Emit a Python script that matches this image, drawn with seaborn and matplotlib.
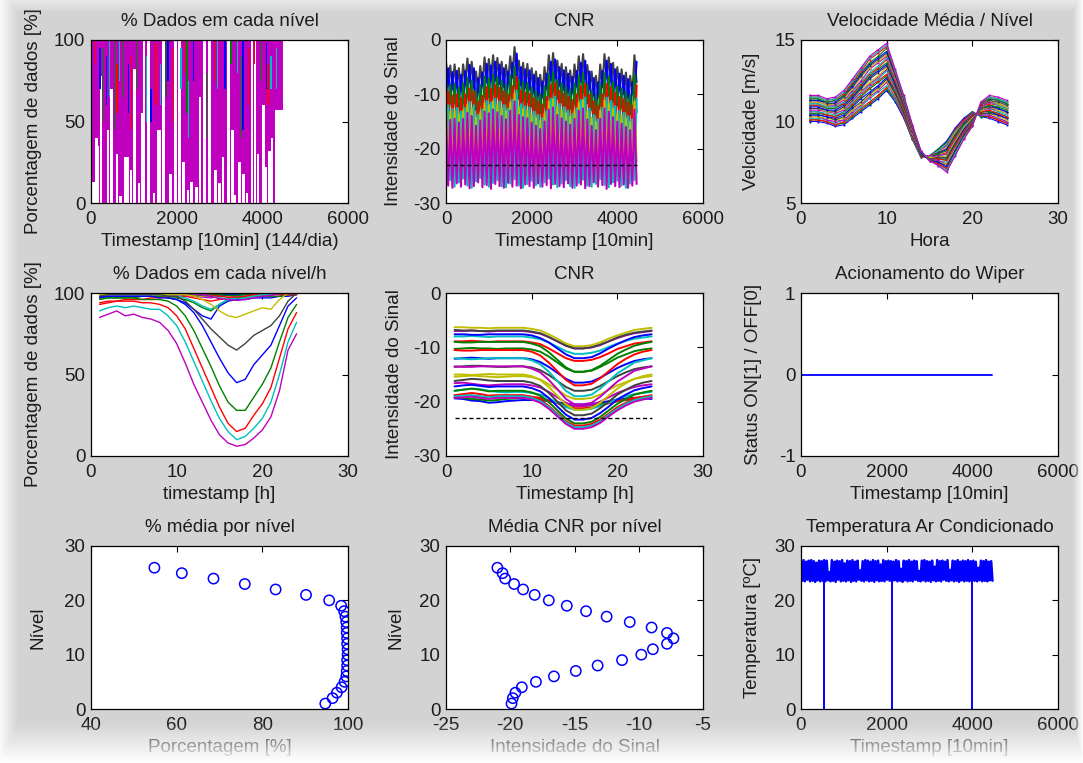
import numpy as np
import pandas as pd
import matplotlib
matplotlib.use("Agg")
import matplotlib.pyplot as plt
import seaborn as sns

#%% dados

horas = list(range(1, 25))
niveis = list(range(1, 27))

# cores padrao do MATLAB: b, g, r, c, m, y, k
cores = {'b': '#0000ff', 'g': '#008000', 'r': '#ff0000', 'c': '#00bfbf',
         'm': '#bf00bf', 'y': '#bfbf00', 'k': '#404040'}
ordem_cores = ['b', 'g', 'r', 'c', 'm', 'y', 'k']

# --- % dados em cada nivel (serie 10 min) ---
bloco_t = [0, 4300, 4300, 4480]
bloco_base = [0, 0, 57, 57]
faixa_t = [55, 128, 170, 240, 390, 480, 600, 690, 830, 930, 1020, 1120, 1180, 1230, 1340,
           1465, 1590, 1690, 1850, 1970, 2060, 2170, 2260, 2350, 2460, 2540, 2640, 2770, 2910,
           3000, 3080, 3210, 3300, 3370, 3470, 3560, 3640, 3760, 3830, 3900, 4030, 4090, 4160, 4230]
faixa_larg = [60, 70, 45, 55, 50, 55, 55, 60, 120, 50, 65, 60, 45, 50, 55,
              45, 75, 55, 60, 55, 60, 70, 45, 70, 65, 50, 70, 60, 80,
              50, 65, 65, 55, 50, 75, 55, 55, 60, 45, 65, 55, 45, 70, 55]
faixa_topo = [13, 40, 35, 78, 45, 70, 30, 4, 28, 20, 82, 12, 55, 100, 100,
              6, 45, 100, 18, 100, 100, 25, 8, 13, 10, 65, 100, 100, 20,
              12, 28, 100, 45, 5, 25, 18, 6, 100, 100, 30, 60, 22, 32, 40]
risco_t = [80, 210, 270, 360, 430, 545, 610, 660, 740, 880, 950, 1060, 1290, 1400, 1520, 1620,
           1750, 1800, 1900, 2100, 2220, 2245, 2270, 2400, 2700, 2880, 2960, 3130, 3270, 3420,
           3510, 3550, 3700, 3820, 3960, 4090, 4130, 4200, 4330]
risco_cor = ['r', 'b', 'g', 'b', 'c', 'g', 'r', 'c', 'g', 'b', 'r', 'g', 'c', 'b', 'r', 'c',
             'k', 'b', 'r', 'c', 'r', 'g', 'c', 'b', 'g', 'r', 'c', 'b', 'g', 'c',
             'g', 'b', 'r', 'r', 'g', 'b', 'r', 'c', 'c']
risco_base = [85, 70, 50, 60, 65, 45, 55, 75, 65, 55, 45, 70, 50, 50, 60, 60,
              65, 75, 50, 70, 80, 55, 40, 75, 40, 75, 70, 70, 85, 80,
              40, 45, 60, 85, 75, 70, 60, 70, 70]
risco_topo = [100, 95, 95, 90, 100, 100, 85, 100, 100, 85, 90, 100, 90, 70, 98, 85,
              100, 100, 95, 95, 100, 100, 75, 100, 80, 100, 100, 100, 100, 100,
              90, 100, 95, 100, 100, 98, 85, 90, 95]

# --- CNR (serie 10 min) ---
tempo_cnr = list(range(0, 4451, 50))
limiar_cnr = -23
preto_pico = [-4.0, -4.7, -4.5, -5.2, -4.5, -3.4, -4.0, -5.8, -4.8, -3.2, -3.5, -2.8, -3.3, -4.0, -4.6,
              -3.0, -1.3, -3.8, -4.2, -4.4, -5.2, -5.8, -6.4, -5.0, -2.8, -2.4, -3.8, -4.4, -5.0, -5.6,
              -4.5, -3.0, -2.6, -4.6, -5.8, -6.6, -4.5, -2.6, -3.2, -4.2, -5.0, -5.4, -6.0, -6.6, -2.8]
preto_vale = [-8.2, -9.0, -8.5, -9.4, -8.0, -7.6, -8.8, -9.6, -8.4, -7.8, -7.2, -7.5, -8.1, -8.6, -8.0,
              -6.9, -6.5, -8.3, -8.8, -9.1, -9.7, -10.2, -10.6, -9.0, -7.4, -7.0, -8.4, -9.2, -9.5, -9.8,
              -8.6, -7.7, -7.1, -8.9, -10.1, -10.5, -8.7, -7.0, -7.6, -8.5, -9.3, -9.9, -10.4, -10.0, -7.8]
azul_pico = [-5.2, -5.9, -5.7, -6.4, -5.7, -4.6, -5.2, -7.0, -6.0, -4.4, -4.7, -4.0, -4.5, -5.2, -5.8,
             -4.2, -2.5, -5.0, -5.4, -5.6, -6.4, -7.0, -7.6, -6.2, -4.0, -3.6, -5.0, -5.6, -6.2, -6.8,
             -5.7, -4.2, -3.8, -5.8, -7.0, -7.8, -5.7, -3.8, -4.4, -5.4, -6.2, -6.6, -7.2, -7.8, -4.0]
azul_vale = [-11.0, -11.7, -11.5, -12.2, -11.5, -10.4, -11.0, -12.8, -11.8, -10.2, -10.5, -9.8, -10.3, -11.0, -11.6,
             -10.0, -8.3, -10.8, -11.2, -11.4, -12.2, -12.8, -13.4, -12.0, -9.8, -9.4, -10.8, -11.4, -12.0, -12.6,
             -11.5, -10.0, -9.6, -11.6, -12.8, -13.6, -11.5, -9.6, -10.2, -11.2, -12.0, -12.4, -13.0, -13.6, -9.8]
verde_pico = [-7.5, -8.2, -8.0, -8.7, -8.0, -6.9, -7.5, -9.3, -8.3, -6.7, -7.0, -6.3, -6.8, -7.5, -8.1,
              -6.5, -4.8, -7.3, -7.7, -7.9, -8.7, -9.3, -9.9, -8.5, -6.3, -5.9, -7.3, -7.9, -8.5, -9.1,
              -8.0, -6.5, -6.1, -8.1, -9.3, -10.1, -8.0, -6.1, -6.7, -7.7, -8.5, -8.9, -9.5, -10.1, -6.3]
verde_vale = [-14.5, -15.2, -15.0, -15.7, -15.0, -13.9, -14.5, -16.3, -15.3, -13.7, -14.0, -13.3, -13.8, -14.5, -15.1,
              -13.5, -11.8, -14.3, -14.7, -14.9, -15.7, -16.3, -16.9, -15.5, -13.3, -12.9, -14.3, -14.9, -15.5, -16.1,
              -15.0, -13.5, -13.1, -15.1, -16.3, -17.1, -15.0, -13.1, -13.7, -14.7, -15.5, -15.9, -16.5, -17.1, -13.3]
verm_pico = [-9.5, -10.2, -10.0, -10.7, -10.0, -8.9, -9.5, -11.3, -10.3, -8.7, -9.0, -8.3, -8.8, -9.5, -10.1,
             -8.5, -6.8, -9.3, -9.7, -9.9, -10.7, -11.3, -11.9, -10.5, -8.3, -7.9, -9.3, -9.9, -10.5, -11.1,
             -10.0, -8.5, -8.1, -10.1, -11.3, -12.1, -10.0, -8.1, -8.7, -9.7, -10.5, -10.9, -11.5, -12.1, -8.3]
verm_vale = [-21, -23, -20, -24, -22, -19, -23, -25, -21, -20, -22, -18, -21, -23, -24,
             -20, -19, -22, -24, -23, -25, -26, -24, -22, -20, -19, -22, -23, -25, -24,
             -21, -20, -19, -23, -25, -26, -22, -20, -21, -23, -24, -25, -26, -24, -21]
ciano_pico = [-12.0, -12.7, -12.5, -13.2, -12.5, -11.4, -12.0, -13.8, -12.8, -11.2, -11.5, -10.8, -11.3, -12.0, -12.6,
              -11.0, -9.3, -11.8, -12.2, -12.4, -13.2, -13.8, -14.4, -13.0, -10.8, -10.4, -11.8, -12.4, -13.0, -13.6,
              -12.5, -11.0, -10.6, -12.6, -13.8, -14.6, -12.5, -10.6, -11.2, -12.2, -13.0, -13.4, -14.0, -14.6, -10.8]
ciano_vale = [-26.5, -25.8, -27.0, -26.2, -25.5, -26.8, -27.2, -26.0, -25.4, -26.6, -27.0, -26.3, -25.8, -26.9, -27.1,
              -26.4, -25.6, -26.8, -27.2, -26.5, -25.9, -26.7, -27.0, -26.2, -25.5, -26.6, -27.1, -26.4, -25.8, -26.9,
              -27.2, -26.3, -25.7, -26.8, -27.0, -26.5, -25.6, -26.7, -27.1, -26.2, -25.9, -26.8, -27.2, -26.4, -25.8]
amar_pico = [-12.5, -13.2, -13.0, -13.7, -13.0, -11.9, -12.5, -14.3, -13.3, -11.7, -12.0, -11.3, -11.8, -12.5, -13.1,
             -11.5, -9.8, -12.3, -12.7, -12.9, -13.7, -14.3, -14.9, -13.5, -11.3, -10.9, -12.3, -12.9, -13.5, -14.1,
             -13.0, -11.5, -11.1, -13.1, -14.3, -15.1, -13.0, -11.1, -11.7, -12.7, -13.5, -13.9, -14.5, -15.1, -11.3]
amar_vale = [-23.0, -24.5, -22.5, -25.0, -23.5, -22.0, -24.0, -25.5, -23.0, -22.5, -24.0, -21.5, -23.0, -24.5, -25.0,
             -22.0, -21.0, -23.5, -25.0, -24.0, -25.5, -26.0, -25.0, -23.5, -22.0, -21.5, -23.5, -24.5, -25.5, -25.0,
             -23.0, -22.0, -21.5, -24.0, -25.5, -26.0, -23.5, -22.0, -22.5, -24.0, -25.0, -25.5, -26.0, -25.0, -22.5]
mag_pico = [-14.0, -14.7, -14.5, -15.2, -14.5, -13.4, -14.0, -15.8, -14.8, -13.2, -13.5, -12.8, -13.3, -14.0, -14.6,
            -13.0, -11.3, -13.8, -14.2, -14.4, -15.2, -15.8, -16.4, -15.0, -12.8, -12.4, -13.8, -14.4, -15.0, -15.6,
            -14.5, -13.0, -12.6, -14.6, -15.8, -16.6, -14.5, -12.6, -13.2, -14.2, -15.0, -15.4, -16.0, -16.6, -12.8]
mag_vale = [-26.8, -27.2, -26.4, -27.0, -26.6, -27.3, -26.9, -26.2, -27.1, -26.7, -27.4, -26.5, -26.9, -27.2, -26.3,
            -27.0, -26.8, -27.3, -26.6, -26.9, -27.2, -26.4, -27.0, -26.7, -27.3, -26.5, -26.9, -27.1, -26.4, -27.2,
            -26.8, -26.6, -27.3, -26.9, -26.2, -27.0, -26.7, -27.4, -26.5, -26.9, -27.1, -26.6, -27.2, -26.8, -26.5]

# --- velocidade media por hora, uma linha por nivel (1..26) ---
vel_nivel = [
    [10.0, 10.0, 9.9, 9.7, 9.8, 10.2, 10.6, 11.0, 11.4, 11.9, 11.2, 10.2, 8.9, 7.8, 7.9, 8.3, 8.8, 9.6, 10.2, 10.6, 10.3, 10.2, 10.0, 9.8],
    [10.1, 10.1, 10.0, 9.8, 9.9, 10.3, 10.7, 11.1, 11.5, 12.0, 11.3, 10.3, 8.9, 7.8, 7.9, 8.3, 8.7, 9.5, 10.1, 10.6, 10.3, 10.3, 10.1, 9.9],
    [10.1, 10.1, 10.0, 9.8, 10.0, 10.4, 10.8, 11.2, 11.6, 12.1, 11.4, 10.3, 9.0, 7.8, 7.9, 8.2, 8.6, 9.5, 10.1, 10.5, 10.4, 10.3, 10.1, 9.9],
    [10.2, 10.2, 10.1, 9.9, 10.1, 10.5, 10.9, 11.4, 11.8, 12.2, 11.4, 10.4, 9.0, 7.8, 7.9, 8.2, 8.6, 9.4, 10.0, 10.5, 10.4, 10.4, 10.2, 10.0],
    [10.3, 10.3, 10.1, 10.0, 10.1, 10.6, 11.0, 11.5, 11.9, 12.4, 11.5, 10.4, 9.0, 7.9, 7.9, 8.1, 8.5, 9.3, 10.0, 10.5, 10.4, 10.4, 10.2, 10.0],
    [10.3, 10.3, 10.2, 10.1, 10.2, 10.7, 11.1, 11.6, 12.0, 12.5, 11.6, 10.5, 9.1, 7.9, 7.8, 8.1, 8.4, 9.3, 9.9, 10.4, 10.5, 10.5, 10.3, 10.1],
    [10.4, 10.4, 10.3, 10.1, 10.3, 10.8, 11.2, 11.7, 12.1, 12.6, 11.7, 10.5, 9.1, 7.9, 7.8, 8.1, 8.3, 9.2, 9.9, 10.4, 10.5, 10.5, 10.4, 10.2],
    [10.4, 10.4, 10.3, 10.2, 10.4, 10.9, 11.4, 11.8, 12.2, 12.7, 11.8, 10.6, 9.2, 7.9, 7.8, 8.0, 8.3, 9.1, 9.8, 10.3, 10.6, 10.6, 10.4, 10.2],
    [10.5, 10.5, 10.4, 10.3, 10.5, 11.0, 11.5, 12.0, 12.4, 12.8, 11.8, 10.6, 9.2, 7.9, 7.8, 8.0, 8.2, 9.1, 9.8, 10.3, 10.6, 10.6, 10.5, 10.3],
    [10.6, 10.6, 10.4, 10.3, 10.6, 11.1, 11.6, 12.1, 12.5, 12.9, 11.9, 10.7, 9.2, 7.9, 7.8, 7.9, 8.1, 9.0, 9.7, 10.3, 10.6, 10.7, 10.5, 10.3],
    [10.6, 10.6, 10.5, 10.4, 10.6, 11.2, 11.7, 12.2, 12.6, 13.1, 12.0, 10.8, 9.3, 8.0, 7.8, 7.9, 8.0, 8.9, 9.7, 10.2, 10.7, 10.8, 10.6, 10.4],
    [10.7, 10.7, 10.6, 10.5, 10.7, 11.3, 11.8, 12.3, 12.7, 13.2, 12.1, 10.8, 9.3, 8.0, 7.8, 7.9, 8.0, 8.9, 9.6, 10.2, 10.7, 10.8, 10.7, 10.5],
    [10.8, 10.8, 10.6, 10.6, 10.8, 11.4, 11.9, 12.4, 12.8, 13.3, 12.2, 10.9, 9.3, 8.0, 7.8, 7.8, 7.9, 8.8, 9.6, 10.2, 10.7, 10.9, 10.7, 10.5],
    [10.8, 10.8, 10.7, 10.6, 10.9, 11.4, 12.0, 12.6, 13.0, 13.4, 12.2, 10.9, 9.4, 8.0, 7.7, 7.8, 7.8, 8.7, 9.5, 10.1, 10.8, 10.9, 10.8, 10.6],
    [10.9, 10.9, 10.7, 10.7, 11.0, 11.5, 12.1, 12.7, 13.1, 13.5, 12.3, 11.0, 9.4, 8.0, 7.7, 7.7, 7.7, 8.6, 9.5, 10.1, 10.8, 11.0, 10.8, 10.6],
    [11.0, 11.0, 10.8, 10.8, 11.1, 11.6, 12.2, 12.8, 13.2, 13.6, 12.4, 11.0, 9.4, 8.0, 7.7, 7.7, 7.7, 8.6, 9.4, 10.1, 10.8, 11.0, 10.9, 10.7],
    [11.0, 11.0, 10.9, 10.9, 11.1, 11.7, 12.3, 12.9, 13.3, 13.8, 12.5, 11.1, 9.5, 8.1, 7.7, 7.7, 7.6, 8.5, 9.4, 10.0, 10.9, 11.1, 11.0, 10.8],
    [11.1, 11.1, 10.9, 10.9, 11.2, 11.8, 12.4, 13.0, 13.4, 13.9, 12.6, 11.2, 9.5, 8.1, 7.7, 7.6, 7.5, 8.4, 9.3, 10.0, 10.9, 11.2, 11.0, 10.8],
    [11.2, 11.2, 11.0, 11.0, 11.3, 11.9, 12.5, 13.2, 13.6, 14.0, 12.6, 11.2, 9.5, 8.1, 7.7, 7.6, 7.4, 8.4, 9.3, 10.0, 10.9, 11.2, 11.1, 10.9],
    [11.2, 11.2, 11.0, 11.1, 11.4, 12.0, 12.7, 13.3, 13.7, 14.1, 12.7, 11.3, 9.6, 8.1, 7.7, 7.5, 7.4, 8.3, 9.2, 9.9, 11.0, 11.3, 11.1, 10.9],
    [11.3, 11.3, 11.1, 11.1, 11.5, 12.1, 12.8, 13.4, 13.8, 14.2, 12.8, 11.3, 9.6, 8.1, 7.7, 7.5, 7.3, 8.2, 9.2, 9.9, 11.0, 11.3, 11.2, 11.0],
    [11.3, 11.3, 11.2, 11.2, 11.6, 12.2, 12.9, 13.5, 13.9, 14.3, 12.9, 11.4, 9.7, 8.1, 7.6, 7.5, 7.2, 8.2, 9.1, 9.8, 11.1, 11.4, 11.3, 11.1],
    [11.4, 11.4, 11.2, 11.3, 11.6, 12.3, 13.0, 13.6, 14.0, 14.5, 13.0, 11.4, 9.7, 8.2, 7.6, 7.4, 7.1, 8.1, 9.1, 9.8, 11.1, 11.4, 11.3, 11.1],
    [11.5, 11.5, 11.3, 11.4, 11.7, 12.4, 13.1, 13.8, 14.2, 14.6, 13.0, 11.5, 9.7, 8.2, 7.6, 7.4, 7.1, 8.0, 9.0, 9.8, 11.1, 11.5, 11.4, 11.2],
    [11.5, 11.5, 11.3, 11.4, 11.8, 12.5, 13.2, 13.9, 14.3, 14.7, 13.1, 11.5, 9.8, 8.2, 7.6, 7.3, 7.0, 8.0, 9.0, 9.7, 11.2, 11.5, 11.4, 11.2],
    [11.6, 11.6, 11.4, 11.5, 11.9, 12.6, 13.3, 14.0, 14.4, 14.8, 13.2, 11.6, 9.8, 8.2, 7.6, 7.3, 6.9, 7.9, 8.9, 9.7, 11.2, 11.6, 11.5, 11.3],
]

# --- % dados por hora, uma linha por nivel ---
pct_nivel_h = [
    [98, 98, 98, 98, 98, 98, 98, 98, 97, 96, 94, 90, 86, 84, 92, 95, 96, 96, 97, 97, 97, 98, 98, 99],
    [97, 97, 97, 97, 97, 98, 98, 98, 97, 97, 96, 94, 91, 89, 93, 96, 97, 97, 98, 98, 98, 98, 99, 99],
    [94, 95, 95, 96, 96, 96, 97, 97, 98, 98, 98, 97, 96, 95, 96, 97, 98, 98, 99, 99, 99, 99, 99, 99],
    [99, 99, 99, 99, 99, 99, 99, 99, 98, 98, 97, 95, 92, 90, 93, 96, 98, 99, 99, 99, 99, 100, 100, 100],
    [100, 100, 100, 100, 100, 100, 100, 99.5, 99, 99, 98.5, 98, 97.5, 97, 98, 99, 99.5, 100, 100, 100, 100, 100, 100, 100],
    [100, 100, 100, 100, 100, 100, 100, 100, 100, 99.5, 99, 98.5, 98, 98.5, 99, 99.5, 100, 100, 100, 100, 100, 100, 100, 100],
    [100, 100, 100, 100, 100, 100, 100, 100, 100, 100, 99.5, 99, 98.5, 98, 99, 99.5, 100, 100, 100, 100, 100, 100, 100, 100],
    [100, 100, 100, 100, 100, 100, 100, 100, 100, 100, 100, 99.5, 99, 99, 99.5, 100, 100, 100, 100, 100, 100, 100, 100, 100],
    [100, 100, 100, 100, 100, 100, 100, 100, 100, 100, 100, 100, 99.5, 99.5, 99.5, 100, 100, 100, 100, 100, 100, 100, 100, 100],
    [100, 100, 100, 100, 100, 100, 100, 100, 100, 100, 100, 100, 100, 100, 100, 100, 100, 100, 100, 100, 100, 100, 100, 100],
    [100, 100, 100, 100, 100, 100, 100, 100, 100, 100, 100, 100, 100, 100, 100, 99.8, 100, 100, 100, 100, 100, 100, 100, 100],
    [100, 100, 100, 100, 100, 100, 100, 100, 100, 100, 100, 100, 100, 100, 100, 100, 100, 100, 100, 100, 100, 100, 100, 100],
    [100, 100, 100, 100, 100, 100, 100, 100, 100, 100, 100, 100, 100, 100, 100, 100, 100, 100, 100, 100, 100, 100, 100, 100],
    [100, 100, 100, 100, 100, 100, 100, 100, 100, 100, 100, 100, 100, 100, 100, 100, 100, 100, 100, 100, 100, 100, 100, 100],
    [100, 100, 100, 100, 100, 100, 100, 100, 100, 100, 100, 100, 99.5, 99.5, 99, 99, 99, 99.5, 100, 100, 100, 100, 100, 100],
    [100, 100, 100, 100, 100, 100, 100, 100, 100, 100, 100, 100, 99.5, 99, 99, 98.5, 98.5, 99, 99.5, 100, 100, 100, 100, 100],
    [100, 100, 100, 100, 100, 100, 100, 100, 100, 100, 100, 99.5, 99, 98.5, 98, 97.5, 97.5, 98, 99, 99.5, 100, 100, 100, 100],
    [100, 100, 100, 100, 100, 100, 100, 100, 100, 100, 100, 99.5, 99, 98, 97, 96.5, 96.5, 97, 98, 99, 99.5, 100, 100, 100],
    [100, 100, 100, 100, 100, 100, 100, 100, 100, 100, 100, 99.5, 99, 98, 96.5, 96, 95.5, 96, 97, 98, 98.5, 99.5, 100, 100],
    [99, 99, 99, 99, 99, 99, 99, 99, 99, 99, 99, 98, 96, 93, 89, 86, 85, 87, 89, 91, 90, 96, 100, 100],
    [98, 99, 99, 99, 99, 99, 99, 99, 98, 98, 95, 90, 84, 78, 73, 68, 65, 69, 74, 77, 80, 86, 95, 100],
    [97, 98, 98, 98, 98, 98, 98, 97, 97, 96, 93, 88, 80, 70, 60, 51, 45, 47, 56, 62, 68, 80, 92, 97],
    [96, 97, 97, 97, 97, 96, 96, 96, 95, 92, 86, 77, 66, 55, 43, 33, 28, 28, 36, 44, 54, 70, 85, 93],
    [93, 94, 95, 95, 95, 94, 94, 93, 91, 86, 78, 66, 54, 42, 30, 20, 15, 17, 25, 32, 42, 60, 78, 88],
    [89, 91, 92, 91, 92, 91, 90, 90, 86, 80, 70, 58, 46, 34, 23, 15, 10, 12, 17, 23, 33, 50, 70, 82],
    [85, 87, 89, 86, 87, 85, 84, 82, 77, 69, 57, 44, 33, 22, 13, 8, 6, 7, 11, 16, 24, 40, 65, 75],
]

# --- CNR por hora, uma linha por nivel ---
cnr_nivel_h = [
    [-19.4, -19.5, -19.8, -19.9, -20.2, -20.1, -19.9, -19.8, -19.7, -19.7, -19.7, -19.9, -20.1, -20.4, -20.5, -20.5, -20.4, -20.2, -19.9, -19.6, -19.4, -19.3, -19.4, -19.5],
    [-19.2, -19.3, -19.5, -19.6, -19.8, -19.7, -19.5, -19.4, -19.3, -19.4, -19.5, -19.8, -20.2, -20.6, -20.8, -20.8, -20.7, -20.5, -20.2, -19.9, -19.7, -19.5, -19.4, -19.3],
    [-18.9, -18.8, -18.9, -19.1, -19.3, -19.2, -19.1, -19.0, -19.0, -19.1, -19.3, -19.8, -20.3, -20.9, -21.2, -21.2, -21.1, -20.8, -20.3, -19.9, -19.6, -19.3, -19.1, -19.0],
    [-18.0, -17.8, -17.6, -17.7, -18.0, -18.2, -18.3, -18.2, -18.2, -18.4, -18.7, -19.4, -20.2, -21.0, -21.5, -21.5, -21.3, -20.8, -20.2, -19.5, -19.0, -18.6, -18.4, -18.2],
    [-16.6, -16.5, -16.7, -16.9, -17.0, -16.9, -16.8, -16.8, -16.8, -17.0, -17.4, -18.2, -19.2, -20.2, -20.8, -20.8, -20.6, -20.0, -19.2, -18.4, -17.8, -17.3, -17.0, -16.8],
    [-15.4, -15.3, -15.2, -15.3, -15.4, -15.5, -15.4, -15.3, -15.3, -15.5, -15.9, -16.8, -17.8, -18.9, -19.5, -19.5, -19.3, -18.7, -17.8, -17.0, -16.4, -15.8, -15.5, -15.3],
    [-13.6, -13.5, -13.4, -13.4, -13.5, -13.6, -13.6, -13.5, -13.5, -13.7, -14.2, -15.1, -16.2, -17.3, -18.0, -18.0, -17.8, -17.1, -16.2, -15.3, -14.6, -14.0, -13.7, -13.5],
    [-12.1, -12.0, -11.9, -12.0, -12.1, -12.0, -12.0, -12.0, -12.0, -12.2, -12.7, -13.6, -14.7, -15.8, -16.5, -16.5, -16.3, -15.6, -14.7, -13.8, -13.1, -12.5, -12.2, -12.0],
    [-10.3, -10.2, -10.1, -10.2, -10.2, -10.3, -10.2, -10.2, -10.2, -10.4, -10.8, -11.7, -12.8, -13.9, -14.5, -14.5, -14.3, -13.6, -12.8, -11.9, -11.3, -10.7, -10.4, -10.2],
    [-8.9, -8.9, -8.8, -8.9, -9.0, -8.9, -8.9, -8.9, -8.9, -9.1, -9.4, -10.2, -11.1, -12.0, -12.5, -12.5, -12.3, -11.8, -11.1, -10.3, -9.8, -9.3, -9.1, -8.9],
    [-8.0, -8.0, -7.9, -8.0, -8.1, -8.0, -8.0, -8.0, -8.0, -8.2, -8.5, -9.1, -9.9, -10.7, -11.2, -11.2, -11.0, -10.6, -9.9, -9.3, -8.8, -8.4, -8.2, -8.0],
    [-7.0, -7.0, -6.9, -7.0, -7.1, -7.0, -7.0, -7.0, -7.0, -7.2, -7.5, -8.1, -8.9, -9.7, -10.2, -10.2, -10.0, -9.6, -8.9, -8.3, -7.8, -7.4, -7.2, -7.0],
    [-6.3, -6.3, -6.4, -6.4, -6.5, -6.4, -6.4, -6.4, -6.4, -6.6, -6.9, -7.6, -8.4, -9.3, -9.8, -9.8, -9.6, -9.1, -8.4, -7.8, -7.3, -6.8, -6.6, -6.4],
    [-6.8, -6.9, -6.9, -7.0, -7.0, -6.9, -6.9, -6.9, -6.9, -7.1, -7.4, -8.1, -8.9, -9.7, -10.2, -10.2, -10.0, -9.5, -8.9, -8.2, -7.7, -7.3, -7.1, -6.9],
    [-7.6, -7.6, -7.7, -7.7, -7.6, -7.6, -7.6, -7.6, -7.6, -7.8, -8.3, -9.1, -10.2, -11.3, -12.0, -12.0, -11.8, -11.1, -10.2, -9.4, -8.7, -8.1, -7.8, -7.6],
    [-9.0, -9.1, -9.1, -9.0, -9.0, -9.0, -9.0, -9.0, -9.0, -9.3, -9.8, -10.9, -12.3, -13.7, -14.5, -14.5, -14.2, -13.4, -12.3, -11.2, -10.4, -9.7, -9.3, -9.0],
    [-10.5, -10.6, -10.6, -10.5, -10.5, -10.5, -10.5, -10.5, -10.5, -10.8, -11.5, -12.8, -14.4, -16.0, -17.0, -17.0, -16.7, -15.7, -14.4, -13.1, -12.1, -11.3, -10.8, -10.5],
    [-12.0, -12.1, -12.2, -12.1, -12.0, -12.0, -12.0, -12.0, -12.0, -12.4, -13.1, -14.5, -16.2, -18.0, -19.0, -19.0, -18.7, -17.6, -16.2, -14.8, -13.8, -12.8, -12.4, -12.0],
    [-13.5, -13.6, -13.6, -13.5, -13.5, -13.5, -13.5, -13.5, -13.5, -13.9, -14.6, -16.0, -17.7, -19.5, -20.5, -20.5, -20.2, -19.1, -17.7, -16.3, -15.3, -14.3, -13.9, -13.5],
    [-15.0, -15.0, -15.1, -15.0, -14.9, -15.0, -15.0, -15.0, -15.0, -15.3, -16.0, -17.3, -18.9, -20.5, -21.5, -21.5, -21.2, -20.2, -18.9, -17.6, -16.6, -15.8, -15.3, -15.0],
    [-16.2, -16.0, -15.8, -15.9, -16.1, -16.2, -16.2, -16.2, -16.2, -16.5, -17.1, -18.4, -20.0, -21.6, -22.5, -22.5, -22.2, -21.2, -20.0, -18.7, -17.8, -17.0, -16.5, -16.2],
    [-17.2, -17.0, -16.9, -17.1, -17.3, -17.2, -17.2, -17.2, -17.2, -17.5, -18.1, -19.3, -20.9, -22.4, -23.3, -23.3, -23.0, -22.1, -20.9, -19.6, -18.7, -17.9, -17.5, -17.2],
    [-18.0, -17.8, -17.6, -17.8, -18.1, -18.0, -18.0, -18.0, -18.0, -18.3, -18.9, -20.1, -21.6, -23.1, -24.0, -24.0, -23.7, -22.8, -21.6, -20.4, -19.5, -18.7, -18.3, -18.0],
    [-18.8, -18.6, -18.4, -18.6, -18.9, -18.8, -18.8, -18.8, -18.8, -19.1, -19.6, -20.8, -22.2, -23.6, -24.4, -24.4, -24.1, -23.3, -22.2, -21.0, -20.2, -19.5, -19.1, -18.8],
    [-19.0, -18.9, -18.8, -19.0, -19.2, -19.0, -19.0, -19.0, -19.0, -19.3, -19.9, -21.0, -22.4, -23.8, -24.7, -24.7, -24.4, -23.6, -22.4, -21.3, -20.4, -19.7, -19.3, -19.0],
    [-19.3, -19.2, -19.1, -19.3, -19.5, -19.3, -19.3, -19.3, -19.3, -19.6, -20.2, -21.3, -22.7, -24.1, -25.0, -25.0, -24.7, -23.9, -22.7, -21.6, -20.7, -20.0, -19.6, -19.3],
]

# --- wiper ---
wiper_t = [0, 4450]
wiper_status = [0, 0]

# --- medias por nivel ---
pct_media = [94.7, 96.4, 97.4, 98.5, 99.2, 99.6, 99.7, 99.8, 99.8, 99.9, 99.9, 99.8, 99.8,
             99.7, 99.7, 99.6, 99.4, 99.1, 98.4, 95.6, 90.2, 83.1, 75.9, 68.6, 61.2, 54.8]
cnr_media = [-19.9, -19.8, -19.6, -19.1, -18.0, -16.6, -14.9, -13.2, -11.3, -9.8, -8.9, -7.8, -7.3,
             -7.8, -9.0, -10.7, -12.5, -14.1, -15.6, -17.0, -18.1, -19.0, -19.7, -20.4, -20.6, -21.0]

# --- temperatura do ar condicionado ---
tempo_temp = list(range(0, 4471, 30))
temperatura = [
    27.2, 23.6, 27.4, 23.5, 27.1, 23.8, 27.3, 23.5, 27.4, 23.6,
    27.2, 23.4, 26.9, 23.7, 27.3, 23.5, 27.2, 23.6, 27.4, 23.5,
    27.3, 23.7, 25.2, 23.5, 27.4, 23.6, 27.1, 23.4, 27.3, 23.8,
    27.2, 23.5, 27.4, 23.6, 26.8, 23.5, 27.3, 23.7, 27.2, 23.4,
    27.4, 23.6, 27.1, 23.5, 27.3, 23.8, 25.5, 23.6, 27.2, 23.5,
    27.4, 23.7, 27.3, 23.5, 27.1, 23.6, 27.4, 23.4, 27.2, 23.7,
    27.3, 23.5, 26.6, 23.6, 27.4, 23.5, 27.2, 23.8, 27.3, 23.6,
    27.2, 23.5, 27.1, 23.7, 27.4, 23.5, 27.2, 23.6, 25.8, 23.4,
    27.3, 23.7, 27.2, 23.5, 27.4, 23.6, 27.1, 23.5, 27.3, 23.8,
    27.2, 23.6, 25.4, 23.5, 27.3, 23.7, 27.4, 23.5, 27.2, 23.6,
    27.1, 23.4, 27.3, 23.7, 26.2, 23.5, 27.4, 23.6, 27.2, 23.5,
    27.3, 23.8, 27.1, 23.6, 27.4, 23.5, 25.6, 23.7, 27.3, 23.5,
    27.2, 23.6, 27.4, 23.4, 27.1, 23.7, 27.3, 23.5, 27.2, 23.6,
    27.4, 23.5, 27.2, 23.6, 27.3, 23.6, 27.1, 23.5, 26.0, 23.7,
    27.3, 23.5, 27.2, 23.6, 27.4, 23.5, 27.1, 23.7, 27.2, 23.6,
]
# quedas da leitura para 0 (falhas do sensor)
queda_t = [540, 2120, 3990]
queda_de = [23.5, 23.5, 23.5]
queda_ate = [0, 0, 0]

#%% estilo

sns.set_style("white")
plt.rcParams['font.family'] = ['Liberation Sans', 'DejaVu Sans']
plt.rcParams['axes.unicode_minus'] = False
plt.rcParams['font.size'] = 13.5
plt.rcParams['axes.titlesize'] = 13.5
plt.rcParams['axes.labelsize'] = 13.5
plt.rcParams['xtick.labelsize'] = 13.5
plt.rcParams['ytick.labelsize'] = 13.5
plt.rcParams['text.color'] = '#1c1c1c'
plt.rcParams['axes.labelcolor'] = '#1c1c1c'

paleta_nivel = {n: cores[ordem_cores[(n - 1) % 7]] for n in niveis}


def tabela_longa(tabela, xs, nome):
    reg = [(nv, x, v) for nv, linha in zip(niveis, tabela) for x, v in zip(xs, linha)]
    return pd.DataFrame(reg, columns=['nivel', 'x', nome])


def intercalar(a, b):
    return list(np.column_stack([a, b]).ravel())


W, H = 1083, 763
fig = plt.figure(figsize=(W / 100, H / 100), dpi=100, facecolor='#d3d3d3')
col_px = [91, 446, 801]
lin_px = [40, 293, 546]


def novo_eixo(c, r):
    return fig.add_axes([col_px[c] / W, 1 - (lin_px[r] + 163) / H, 257 / W, 163 / H])


def moldura(ax, xlim, xt, ylim, yt, titulo, xl, yl, pos_yl):
    ax.set_facecolor('white')
    ax.set_xlim(xlim)
    ax.set_xticks(xt)
    ax.set_ylim(ylim)
    ax.set_yticks(yt)
    ax.set_title(titulo, pad=10)
    ax.set_xlabel(xl)
    ax.set_ylabel(yl)
    ax.xaxis.set_label_coords(0.5, -0.185)
    ax.yaxis.set_label_coords(pos_yl, 0.5)
    ax.tick_params(direction='in', top=True, right=True, length=4, width=0.8,
                   color='black', labelcolor='#1c1c1c')
    ax.tick_params(axis='x', pad=6)
    ax.tick_params(axis='y', pad=4)
    for s in ax.spines.values():
        s.set_visible(True)
        s.set_color('black')
        s.set_linewidth(0.9)


#%% 1 - % dados em cada nivel
ax = novo_eixo(0, 0)
ax.fill_between(bloco_t, bloco_base, 100, color=cores['m'], lw=0)
ax.bar(faixa_t, faixa_topo, width=faixa_larg, bottom=0, color='white', lw=0)
ax.bar(risco_t, np.subtract(risco_topo, risco_base), width=32, bottom=risco_base,
       color=[cores[c] for c in risco_cor], lw=0)
moldura(ax, (0, 6000), [0, 2000, 4000, 6000], (0, 100), [0, 50, 100],
        '% Dados em cada nível', 'Timestamp [10min] (144/dia)', 'Porcentagem de dados [%]', -0.19)

#%% 2 - CNR serie
ax = novo_eixo(1, 0)
series_cnr = {
    'k': intercalar(preto_pico, preto_vale),
    'b': intercalar(azul_vale, azul_pico),
    'g': intercalar(verde_pico, verde_vale),
    'r': intercalar(verm_vale, verm_pico),
    'c': intercalar(ciano_vale, ciano_pico),
    'y': intercalar(amar_pico, amar_vale),
    'm': intercalar(mag_pico, mag_vale),
}
df_cnr = pd.DataFrame([(k, t, v) for k, vals in series_cnr.items() for t, v in zip(tempo_cnr, vals)],
                      columns=['serie', 't', 'cnr'])
sns.lineplot(data=df_cnr, x='t', y='cnr', hue='serie', hue_order=list(series_cnr.keys()),
             palette=cores, estimator=None, sort=False, legend=False, lw=1.5, ax=ax)
ax.hlines(limiar_cnr, tempo_cnr[0], tempo_cnr[-1], colors='black', linestyles=(0, (3, 2)), lw=1.0)
moldura(ax, (0, 6000), [0, 2000, 4000, 6000], (-30, 0), [-30, -20, -10, 0],
        'CNR', 'Timestamp [10min]', 'Intensidade do Sinal', -0.171)

#%% 3 - velocidade media / nivel
ax = novo_eixo(2, 0)
df_vel = tabela_longa(vel_nivel, horas, 'vel')
sns.lineplot(data=df_vel, x='x', y='vel', hue='nivel', palette=paleta_nivel, estimator=None,
             sort=False, legend=False, lw=0.8, marker='.', ms=3, mew=0, ax=ax)
moldura(ax, (0, 30), [0, 10, 20, 30], (5, 15), [5, 10, 15],
        'Velocidade Média / Nível', 'Hora', 'Velocidade [m/s]', -0.16)

#%% 4 - % dados por hora
ax = novo_eixo(0, 1)
df_pct = tabela_longa(pct_nivel_h, horas, 'pct')
sns.lineplot(data=df_pct, x='x', y='pct', hue='nivel', palette=paleta_nivel, estimator=None,
             sort=False, legend=False, lw=1.0, ax=ax)
moldura(ax, (0, 30), [0, 10, 20, 30], (0, 100), [0, 50, 100],
        '% Dados em cada nível/h', 'timestamp [h]', 'Porcentagem de dados [%]', -0.19)

#%% 5 - CNR por hora
ax = novo_eixo(1, 1)
df_cnr_h = tabela_longa(cnr_nivel_h, horas, 'cnr')
sns.lineplot(data=df_cnr_h, x='x', y='cnr', hue='nivel', palette=paleta_nivel, estimator=None,
             sort=False, legend=False, lw=1.4, ax=ax)
ax.hlines(limiar_cnr, horas[0], horas[-1], colors='black', linestyles=(0, (3, 2)), lw=1.0)
moldura(ax, (0, 30), [0, 10, 20, 30], (-30, 0), [-30, -20, -10, 0],
        'CNR', 'Timestamp [h]', 'Intensidade do Sinal', -0.167)

#%% 6 - wiper
ax = novo_eixo(2, 1)
sns.lineplot(x=wiper_t, y=wiper_status, color=cores['b'], lw=1.3, ax=ax)
moldura(ax, (0, 6000), [0, 2000, 4000, 6000], (-1, 1), [-1, 0, 1],
        'Acionamento do Wiper', 'Timestamp [10min]', 'Status ON[1] / OFF[0]', -0.152)

#%% 7 - % media por nivel
ax = novo_eixo(0, 2)
sns.scatterplot(x=pct_media, y=niveis, marker='o', s=55, facecolors='none',
                edgecolor=cores['b'], linewidth=1.1, ax=ax)
moldura(ax, (40, 100), [40, 60, 80, 100], (0, 30), [0, 10, 20, 30],
        '% média por nível', 'Porcentagem [%]', 'Nível', -0.175)

#%% 8 - media CNR por nivel
ax = novo_eixo(1, 2)
sns.scatterplot(x=cnr_media, y=niveis, marker='o', s=55, facecolors='none',
                edgecolor=cores['b'], linewidth=1.1, ax=ax)
moldura(ax, (-25, -5), [-25, -20, -15, -10, -5], (0, 30), [0, 10, 20, 30],
        'Média CNR por nível', 'Intensidade do Sinal', 'Nível', -0.163)

#%% 9 - temperatura
ax = novo_eixo(2, 2)
sns.lineplot(x=tempo_temp, y=temperatura, color=cores['b'], lw=1.8, estimator=None, sort=False, ax=ax)
ax.vlines(queda_t, queda_ate, queda_de, colors=cores['b'], lw=1.4)
moldura(ax, (0, 6000), [0, 2000, 4000, 6000], (0, 30), [0, 10, 20, 30],
        'Temperatura Ar Condicionado', 'Timestamp [10min]', 'Temperatura [ºC]', -0.156)

#%% sombra clara nas bordas da captura
xx = np.arange(W)[None, :] + np.zeros((H, 1))
yy = np.arange(H)[:, None] + np.zeros((1, W))
alfa = np.maximum.reduce([
    np.clip((18 - xx) / 18, 0, 1) * 0.9,
    np.clip((xx - 1072) / 11, 0, 1),
    np.clip((yy - 722) / 40, 0, 1),
    np.clip((12 - yy) / 12, 0, 1) * 0.5,
])
sombra = np.ones((H, W, 4))
sombra[..., 3] = alfa
ov = fig.add_axes([0, 0, 1, 1], zorder=50)
ov.imshow(sombra, aspect='auto', interpolation='bilinear')
ov.set_axis_off()

fig.savefig('out.png', dpi=100, facecolor=fig.get_facecolor())
